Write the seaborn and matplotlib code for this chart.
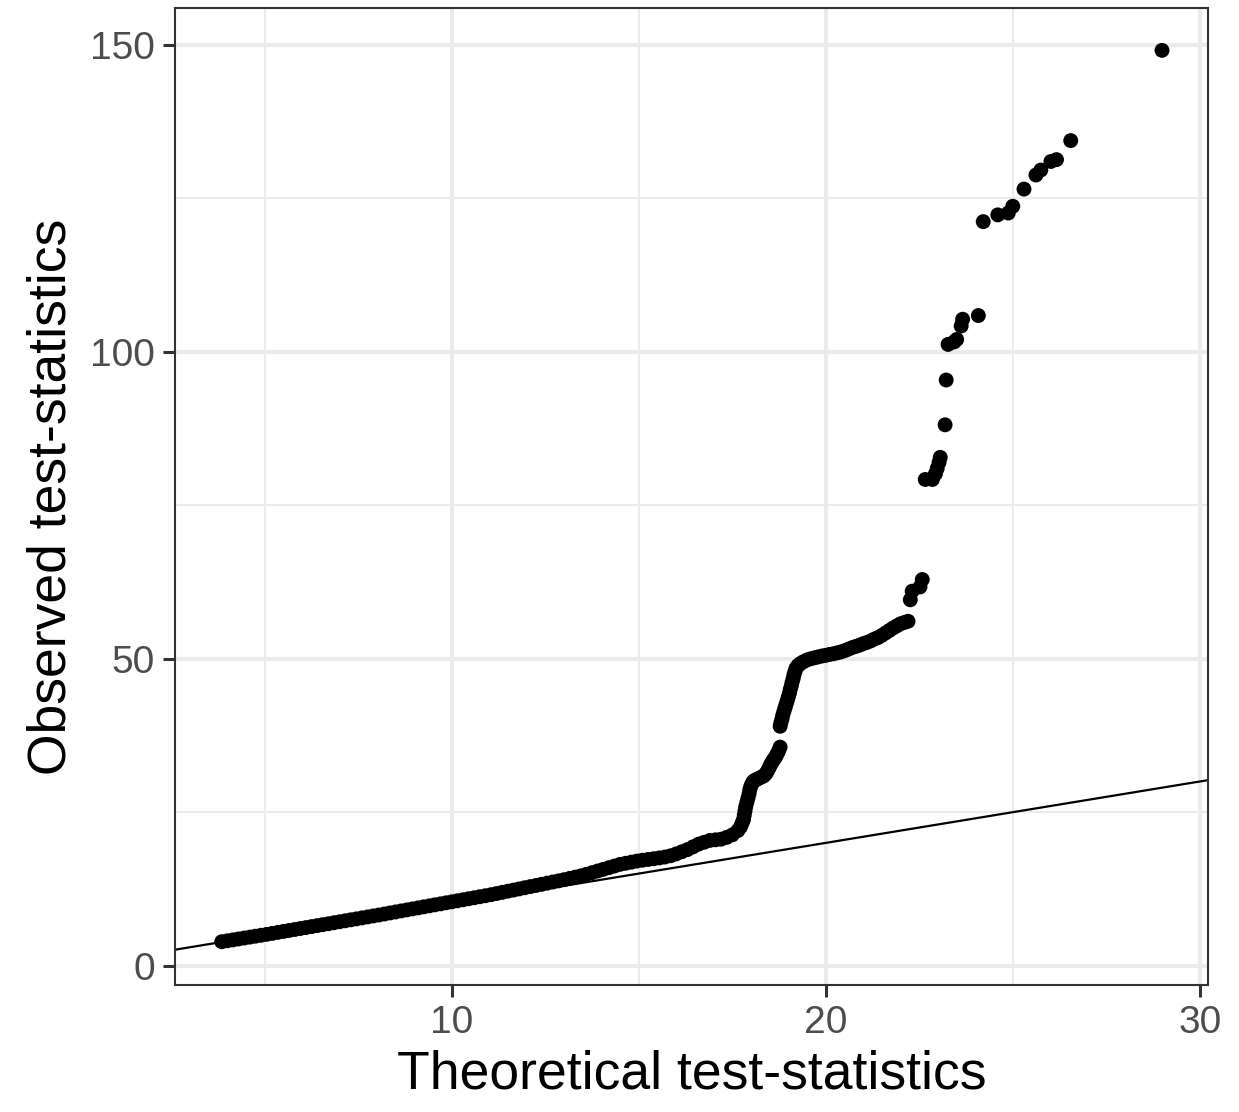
import matplotlib
matplotlib.use("Agg")
import matplotlib.pyplot as plt
import seaborn as sns
import pandas as pd

# ---- data ----
theoretical_dense = [
    3.85, 4.0, 4.15, 4.3, 4.45, 4.6, 4.75, 4.9, 5.05, 5.2, 5.35, 5.5, 5.65, 5.8, 5.95,
    6.1, 6.25, 6.4, 6.55, 6.7, 6.85, 7.0, 7.15, 7.3, 7.45, 7.6, 7.75, 7.9, 8.05, 8.2,
    8.35, 8.5, 8.65, 8.8, 8.95, 9.1, 9.25, 9.4, 9.55, 9.7, 9.85, 10.0, 10.15, 10.3,
    10.45, 10.6, 10.75, 10.9, 11.05, 11.2, 11.35, 11.5, 11.65, 11.8, 11.95, 12.1,
    12.25, 12.4, 12.55, 12.7, 12.85, 13.0, 13.15, 13.3, 13.45, 13.6, 13.75, 13.9,
    14.05, 14.2, 14.35, 14.5, 14.65, 14.8, 14.95, 15.1, 15.25, 15.4, 15.55, 15.7,
    15.85, 16.0, 16.15, 16.3, 16.45, 16.6, 16.75, 16.9, 17.05, 17.2, 17.35, 17.5, 17.65,
]
observed_dense = [
    3.9, 4.05, 4.2, 4.35, 4.5, 4.65, 4.8, 4.95, 5.1, 5.26, 5.42, 5.58, 5.73, 5.89, 6.05,
    6.2, 6.36, 6.52, 6.68, 6.83, 6.99, 7.15, 7.31, 7.47, 7.62, 7.78, 7.94, 8.1, 8.25, 8.42,
    8.59, 8.75, 8.92, 9.08, 9.25, 9.41, 9.58, 9.74, 9.91, 10.07, 10.24, 10.4, 10.57, 10.73,
    10.9, 11.06, 11.23, 11.39, 11.56, 11.75, 11.94, 12.13, 12.31, 12.5, 12.69, 12.88,
    13.06, 13.25, 13.44, 13.63, 13.81, 14.0, 14.21, 14.42, 14.63, 14.88, 15.15, 15.42,
    15.69, 15.96, 16.23, 16.5, 16.68, 16.86, 17.04, 17.18, 17.3, 17.42, 17.55, 17.7,
    17.9, 18.2, 18.55, 18.9, 19.35, 19.8, 20.1, 20.4, 20.5, 20.6, 20.9, 21.3, 22.0,
]
theoretical_jump = [
    17.72, 17.76, 17.8, 17.82, 17.84, 17.86, 17.89, 17.92, 17.95, 17.97, 18.0, 18.04,
    18.08, 18.14, 18.2, 18.27, 18.34, 18.4, 18.45, 18.49, 18.53, 18.57, 18.61, 18.66,
    18.7, 18.74, 18.78,
    18.78, 18.8, 18.83, 18.85, 18.88, 18.91, 18.94, 18.97, 19.0, 19.03, 19.05, 19.08,
    19.1, 19.13, 19.15, 19.18, 19.21, 19.26, 19.32, 19.4, 19.5, 19.6, 19.7, 19.8, 19.9,
    20.0, 20.1, 20.2, 20.3, 20.4, 20.5, 20.6, 20.7, 20.8, 20.9, 21.0, 21.1, 21.2, 21.3,
    21.4, 21.5, 21.6, 21.7, 21.8, 21.9, 22.0, 22.1, 22.2,
]
observed_jump = [
    22.6, 23.2, 23.8, 24.5, 25.2, 25.9, 26.6, 27.3, 28.0, 28.7, 29.3, 29.8,
    30.1, 30.3, 30.5, 30.7, 30.9, 31.3, 31.8, 32.3, 32.8, 33.2, 33.6, 34.0,
    34.5, 35.0, 35.6,
    39.0, 39.6, 40.2, 40.8, 41.4, 42.0, 42.6, 43.2, 43.8, 44.4, 45.0, 45.6,
    46.2, 46.8, 47.4, 48.0, 48.5, 48.9, 49.2, 49.5, 49.8, 50.0, 50.15, 50.3, 50.45,
    50.55, 50.7, 50.8, 50.95, 51.1, 51.3, 51.55, 51.8, 52.0, 52.2, 52.45, 52.65, 52.9, 53.2,
    53.45, 53.8, 54.2, 54.6, 55.0, 55.35, 55.7, 55.9, 56.1,
]
theoretical_tail = [
    22.26, 22.31, 22.52, 22.58,
    22.66, 22.85, 22.93, 22.98, 23.03, 23.06,
    23.19, 23.22,
    23.27, 23.43, 23.5, 23.62, 23.66, 24.08,
    24.21, 24.6, 24.88, 25.0, 25.3, 25.62, 25.75, 26.02, 26.17, 26.55, 28.99,
]
observed_tail = [
    59.6, 61.0, 61.7, 62.9,
    79.2, 79.2, 80.1, 81.0, 82.0, 82.8,
    88.1, 95.4,
    101.2, 101.6, 102.0, 104.2, 105.3, 105.9,
    121.2, 122.3, 122.6, 123.7, 126.5, 128.8, 129.6, 131.0, 131.3, 134.4, 149.1,
]
ref_intercept = 0.0
ref_slope = 1.0

x_ticks = [10, 20, 30]
y_ticks = [0, 50, 100, 150]
x_minor = [5, 15, 25]
y_minor = [25, 75, 125]
x_label = "Theoretical test-statistics"
y_label = "Observed test-statistics"

df = pd.DataFrame({
    "theoretical": theoretical_dense + theoretical_jump + theoretical_tail,
    "observed": observed_dense + observed_jump + observed_tail,
})

# ---- style ----
sns.set_theme(style="white")
plt.rcParams["font.family"] = ["Liberation Sans", "DejaVu Sans"]

fig, ax = plt.subplots(figsize=(12.39, 11.12), dpi=100)
fig.subplots_adjust(left=175 / 1239, right=1208 / 1239, top=1 - 8 / 1112, bottom=1 - 985 / 1112)

ax.set_xlim(2.6, 30.22)
ax.set_ylim(-3.15, 156.0)

ax.set_xticks(x_ticks)
ax.set_yticks(y_ticks)
ax.set_xticks(x_minor, minor=True)
ax.set_yticks(y_minor, minor=True)
ax.grid(which="major", color="#EBEBEB", linewidth=3.0, zorder=0)
ax.grid(which="minor", color="#EBEBEB", linewidth=1.5, zorder=0)
ax.set_axisbelow(True)

ax.axline((0, ref_intercept), slope=ref_slope, color="black", linewidth=1.6, zorder=2)

sns.scatterplot(data=df, x="theoretical", y="observed", ax=ax, color="black",
                s=115, edgecolor="none", linewidth=0, zorder=3)

for sp in ax.spines.values():
    sp.set_color("#333333")
    sp.set_linewidth(1.5)
    sp.set_visible(True)

ax.tick_params(axis="both", which="major", length=8.5, width=2.2, color="#333333",
               labelsize=28, labelcolor="#4D4D4D", pad=6, direction="out")
ax.tick_params(axis="both", which="minor", length=0)
ax.tick_params(bottom=True, left=True)

ax.set_xlabel(x_label, fontsize=38.5, color="black", labelpad=6)
ax.set_ylabel(y_label, fontsize=38.5, color="black", labelpad=10)

fig.savefig("out.png", dpi=100)
